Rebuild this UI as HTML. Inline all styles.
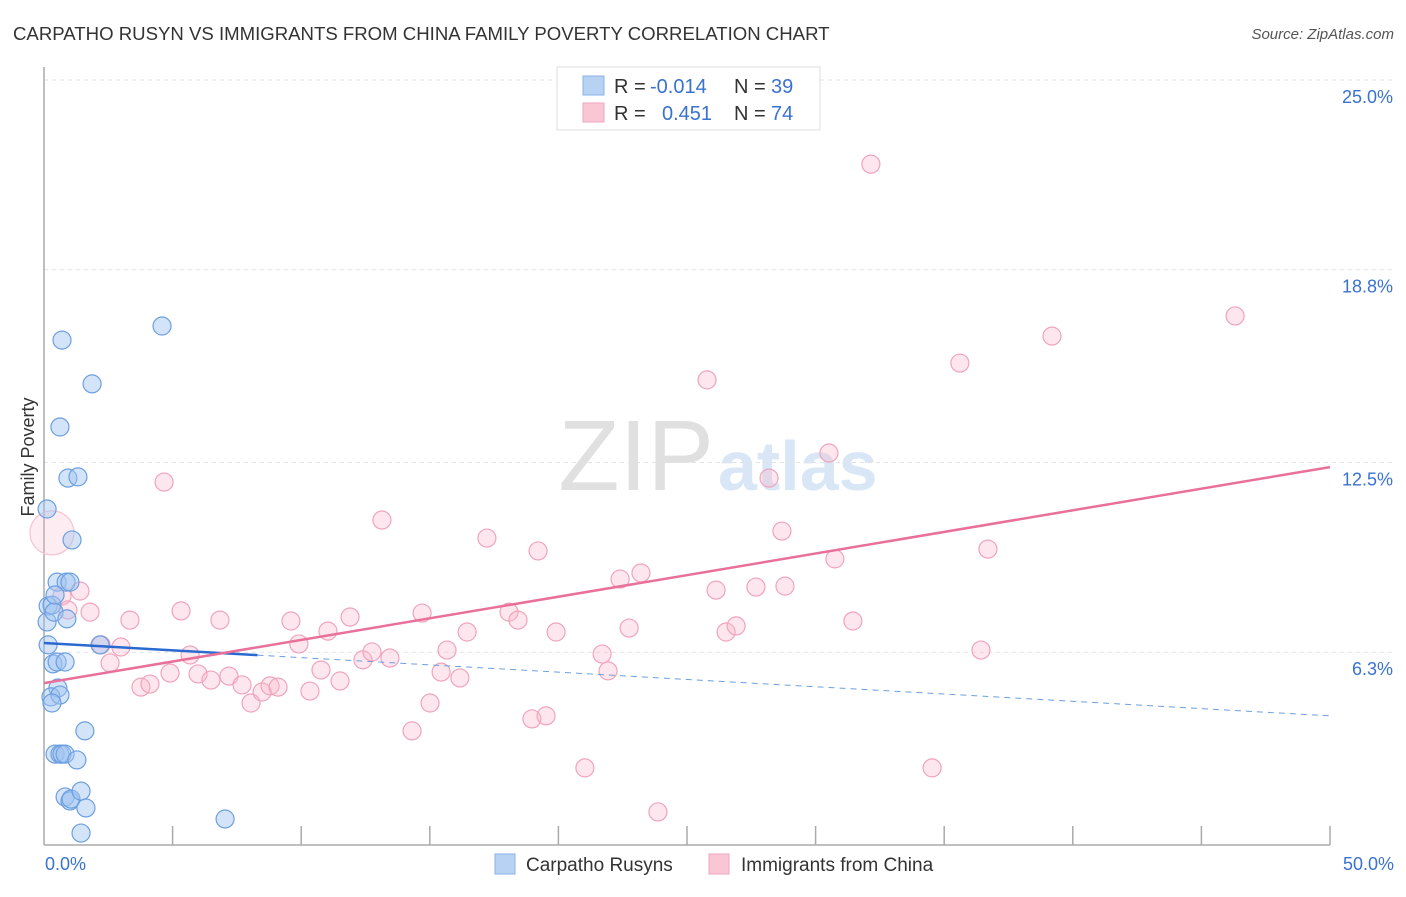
<!DOCTYPE html>
<html><head><meta charset="utf-8"><style>
body{margin:0;background:#fff;font-family:"Liberation Sans",sans-serif}
svg text{font-family:"Liberation Sans",sans-serif}
</style></head><body>
<svg id="chart" width="1406" height="892" viewBox="0 0 1406 892" xmlns="http://www.w3.org/2000/svg">
<text x="13" y="40" font-size="18.6" fill="#333">CARPATHO RUSYN VS IMMIGRANTS FROM CHINA FAMILY POVERTY CORRELATION CHART</text>
<text x="1394" y="39" font-size="15" fill="#555" font-style="italic" text-anchor="end">Source: ZipAtlas.com</text>
<text x="714" y="490" font-size="100" fill="#e0e0e0" text-anchor="end" font-family="Liberation Serif">ZIP</text>
<text x="718" y="490" font-size="70" fill="#d8e6f6" font-weight="bold">atlas</text>
<g id="grid"></g>
<g id="axes"></g>
<g id="marks"></g>
<text transform="translate(34,457) rotate(-90)" font-size="18" fill="#333" text-anchor="middle">Family Poverty</text>
<g>
<rect x="557" y="67" width="263" height="63" fill="#fff" stroke="#ddd"/>
<rect x="583" y="76" width="21" height="19" fill="#b8d2f4" stroke="#8ab2e8"/>
<rect x="583" y="103" width="21" height="19" fill="#f8c6d4" stroke="#f0a6bc"/>
<text x="614" y="93" font-size="20" fill="#333">R =</text>
<text x="650" y="93" font-size="20" fill="#3a72d0">-0.014</text>
<text x="734" y="93" font-size="20" fill="#333">N =</text>
<text x="771" y="93" font-size="20" fill="#3a72d0">39</text>
<text x="614" y="120" font-size="20" fill="#333">R =</text>
<text x="662" y="120" font-size="20" fill="#3a72d0">0.451</text>
<text x="734" y="120" font-size="20" fill="#333">N =</text>
<text x="771" y="120" font-size="20" fill="#3a72d0">74</text>
</g>
<g>
<rect x="495" y="854" width="20" height="20" fill="#b8d2f4" stroke="#8ab2e8"/>
<text x="526" y="871" font-size="19" fill="#333">Carpatho Rusyns</text>
<rect x="709" y="854" width="20" height="20" fill="#f8c6d4" stroke="#f0a6bc"/>
<text x="741" y="871" font-size="19" fill="#333">Immigrants from China</text>
</g>
</svg>
<script>
const yTicks=[6.3,12.5,18.8,25.0];
const yTickLabels=["6.3%","12.5%","18.8%","25.0%"];
const xTicks=[0,5,10,15,20,25,30,35,40,45,50];
const rusynX=[0.12,0.16,0.12,0.16,0.31,0.39,0.70,0.62,1.87,4.59,0.93,1.32,1.09,0.51,0.86,1.01,0.43,0.89,2.18,0.35,0.51,0.82,0.54,0.27,0.62,0.31,1.59,0.43,0.62,0.70,0.82,1.28,0.82,1.01,1.05,1.44,1.63,1.44,7.04];
const rusynY=[10.98,7.81,7.29,6.54,7.84,7.61,16.50,13.66,15.07,16.96,11.99,12.03,9.97,8.59,8.59,8.59,8.17,7.39,6.54,5.92,5.98,5.98,5.13,4.84,4.90,4.64,3.73,2.97,2.97,2.97,2.97,2.78,1.57,1.44,1.50,1.76,1.21,0.39,0.85];
const chinaX=[0.31,0.70,1.40,0.93,1.79,3.34,2.57,2.99,2.22,3.77,4.12,4.67,5.33,5.68,4.90,5.99,6.49,6.84,7.19,7.70,8.05,8.48,8.79,9.10,9.60,9.91,10.34,10.77,11.04,11.51,11.90,12.40,12.75,13.45,13.14,14.31,14.70,15.01,15.44,15.67,16.17,16.45,17.22,18.08,18.43,18.97,19.52,19.21,19.91,21.03,21.70,21.93,22.40,22.75,23.21,23.87,25.78,26.13,26.52,26.91,27.68,28.19,28.69,28.81,30.52,30.75,31.45,32.15,34.53,35.61,36.43,36.70,39.19,46.31];
const chinaY=[10.20,8.14,8.30,7.68,7.61,7.35,5.95,6.47,6.54,5.16,5.26,11.86,7.65,6.21,5.62,5.59,5.39,7.35,5.52,5.23,4.64,5.00,5.20,5.16,7.32,6.57,5.03,5.72,6.99,5.36,7.45,6.05,6.31,6.11,10.62,3.73,7.58,4.64,5.65,6.37,5.46,6.96,10.03,7.61,7.35,4.12,4.22,9.61,6.96,2.52,6.24,5.69,8.69,7.09,8.89,1.08,15.20,8.33,6.96,7.16,8.43,11.99,10.26,8.46,12.81,9.35,7.32,22.25,2.52,15.75,6.37,9.67,16.63,17.29];
const rusynTrend=[6.6,4.22];
const chinaTrend=[5.29,12.35];
const rusynSolidEnd=8.3;

const NS="http://www.w3.org/2000/svg";
const X0=44,X1=1330,Y0=845,YTOP=80;
function sx(v){return X0+v/50*(X1-X0);}
function sy(v){return Y0-v/25*(Y0-YTOP);}
function mk(tag,attrs,parent){const e=document.createElementNS(NS,tag);for(const k in attrs)e.setAttribute(k,attrs[k]);parent.appendChild(e);return e;}
const grid=document.getElementById('grid'),axes=document.getElementById('axes'),marks=document.getElementById('marks');
yTicks.forEach((t,i)=>{
  const l=mk('line',{x1:X0,x2:1394,y1:sy(t),y2:sy(t),stroke:'#e2e2e2','stroke-dasharray':'4,4'},grid);
  
  
  const tx=mk('text',{x:1393,y:sy(t)+23,'font-size':18,fill:'#3a72d0','text-anchor':'end'},axes);
  tx.textContent=yTickLabels[i];
  
  
});
const ya=mk('line',{x1:X0,x2:X0,y1:67,y2:Y0,stroke:'#aaa','stroke-width':1.5},axes);


const xa=mk('line',{x1:X0,x2:X1,y1:Y0,y2:Y0,stroke:'#aaa','stroke-width':1.5},axes);


xTicks.forEach(t=>{
  if(t===0)return;
  const l=mk('line',{x1:sx(t),x2:sx(t),y1:826,y2:Y0,stroke:'#aaa','stroke-width':1.5},axes);
  
  
});
const xl0=mk('text',{x:45,y:870,'font-size':18,fill:'#3a72d0'},axes);xl0.textContent='0.0%';


const xl1=mk('text',{x:1394,y:870,'font-size':18,fill:'#3a72d0','text-anchor':'end'},axes);xl1.textContent='50.0%';



chinaX.forEach((v,i)=>{
  const c=mk('circle',{cx:sx(v),cy:sy(chinaY[i]),r:i===0?22:9,fill:i===0?'rgba(248,182,204,0.25)':'rgba(248,182,204,0.35)',stroke:i===0?'#f6c4d2':'#f0a4bc','stroke-width':1.2},marks);
  
  
});
rusynX.forEach((v,i)=>{
  const c=mk('circle',{cx:sx(v),cy:sy(rusynY[i]),r:9,fill:'rgba(160,196,240,0.45)',stroke:'#6c9fe0','stroke-width':1.2},marks);
  
  
});
function ty(tr,x){return tr[0]+(tr[1]-tr[0])*x/50;}
const bd=mk('line',{x1:sx(rusynSolidEnd),y1:sy(ty(rusynTrend,rusynSolidEnd)),x2:sx(50),y2:sy(rusynTrend[1]),stroke:'#6c9fe0','stroke-width':1,'stroke-dasharray':'6,5'},marks);


const bs=mk('line',{x1:sx(0),y1:sy(rusynTrend[0]),x2:sx(rusynSolidEnd),y2:sy(ty(rusynTrend,rusynSolidEnd)),stroke:'#2a6ad0','stroke-width':2.5},marks);


const pl=mk('line',{x1:sx(0),y1:sy(chinaTrend[0]),x2:sx(50),y2:sy(chinaTrend[1]),stroke:'#e8709a','stroke-width':2.5},marks);


</script>
</body></html>
